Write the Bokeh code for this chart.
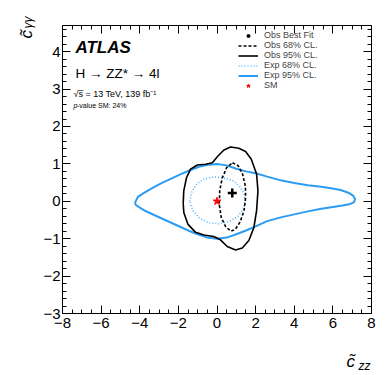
import numpy as np
from bokeh.plotting import figure
from bokeh.models import (Range1d, SingleIntervalTicker, LinearAxis, Label,
                          Legend, LegendItem, CustomJSTickFormatter)
from bokeh.embed import file_html
from bokeh.resources import INLINE

FONT = "Liberation Sans"

# ---------------- data ----------------
x_lim = (-8, 8)
y_lim = (-3, 4.7)

exp95_x = [-4.25, -4.1, -3.8, -3.4, -2.9, -2.4, -1.9, -1.4, -0.9, -0.4, 0.0, 0.5, 1.0, 1.5, 2.0, 2.6,
           3.3, 4.0, 4.7, 5.4, 5.9, 6.4, 6.8, 7.05, 7.15, 7.1,
           6.9, 6.5, 6.0, 5.4, 4.7, 4.0, 3.3, 2.6, 2.0, 1.5, 1.0, 0.5, 0.0, -0.5, -1.0, -1.5,
           -2.0, -2.6, -3.2, -3.7, -4.0, -4.2, -4.25]
exp95_y = [-0.05, 0.12, 0.22, 0.34, 0.48, 0.60, 0.72, 0.83, 0.93, 0.98, 1.0, 0.96, 0.87, 0.80, 0.75, 0.66,
           0.56, 0.49, 0.43, 0.39, 0.35, 0.30, 0.23, 0.15, 0.06, -0.02,
           -0.07, -0.11, -0.15, -0.20, -0.27, -0.35, -0.43, -0.53, -0.67, -0.78, -0.88, -0.97, -1.0, -0.97, -0.88, -0.78,
           -0.66, -0.52, -0.38, -0.26, -0.17, -0.10, -0.05]

exp68_x = [-1.42, -1.3, -1.05, -0.7, -0.2, 0.3, 0.8, 1.15, 1.38, 1.48, 1.38, 1.08, 0.65, 0.1, -0.4, -0.9, -1.25, -1.42]
exp68_y = [0.0, 0.26, 0.46, 0.59, 0.65, 0.63, 0.56, 0.42, 0.22, 0.02, -0.2, -0.40, -0.54, -0.60, -0.58, -0.45, -0.25, 0.0]

obs95_x = [-1.75, -1.72, -1.58, -1.37, -1.02, -0.59, -0.24, 0.05, 0.36, 0.70, 1.13, 1.48, 1.77, 2.05, 2.12,
           2.05, 1.91, 1.65, 1.31, 0.96, 0.53, 0.18, -0.17, -0.68, -1.11, -1.51, -1.72, -1.75]
obs95_y = [-0.05, 0.28, 0.63, 0.86, 0.97, 0.99, 1.03, 1.21, 1.37, 1.45, 1.42, 1.33, 1.13, 0.73, 0.28,
           -0.25, -0.70, -1.05, -1.25, -1.30, -1.21, -1.03, -0.94, -0.90, -0.83, -0.61, -0.30, -0.05]

obs68_x = [0.80, 1.10, 1.33, 1.47, 1.48, 1.40, 1.20, 0.95, 0.72, 0.45, 0.22, 0.12, 0.14, 0.27, 0.50, 0.80]
obs68_y = [1.03, 0.95, 0.72, 0.40, 0.10, -0.25, -0.55, -0.75, -0.80, -0.68, -0.43, -0.10, 0.28, 0.62, 0.90, 1.03]

best_fit_x = [0.79]
best_fit_y = [0.22]
sm_x = [0.0]
sm_y = [0.0]

legend_labels = ["Obs Best Fit", "Obs 68% CL.", "Obs 95% CL.", "Exp 68% CL.", "Exp 95% CL.", "SM"]

BLUE = "#2b9cf2"
LBLUE = "#55b5ff"

# ---------------- figure ----------------
W, H = 386, 372
p = figure(width=W, height=H, output_backend="svg", toolbar_location=None,
           x_range=Range1d(*x_lim), y_range=Range1d(*y_lim),
           min_border_left=62, min_border_right=W - 371, min_border_top=25, min_border_bottom=H - 313,
           x_axis_type=None, y_axis_type=None)
p.background_fill_color = "white"
p.border_fill_color = "white"
p.outline_line_color = "black"
p.outline_line_width = 1
p.xgrid.visible = False
p.ygrid.visible = False

xt = SingleIntervalTicker(interval=2, num_minor_ticks=4)
yt = SingleIntervalTicker(interval=1, num_minor_ticks=5)


def style_axis(ax, labels=True):
    ax.axis_line_color = "black"
    ax.major_tick_line_color = "black"
    ax.minor_tick_line_color = "black"
    ax.major_tick_in = 8
    ax.major_tick_out = 0
    ax.minor_tick_in = 4
    ax.minor_tick_out = 0
    ax.major_label_text_font = FONT
    ax.major_label_text_color = "black"
    ax.major_label_text_font_size = "15px"
    if not labels:
        ax.formatter = CustomJSTickFormatter(code="return ''")
        ax.major_label_standoff = 0


bx = LinearAxis(ticker=xt)
style_axis(bx)
bx.major_label_standoff = 4
p.add_layout(bx, "below")
lx = LinearAxis(ticker=yt)
style_axis(lx)
lx.major_label_standoff = 2
p.add_layout(lx, "left")
tx = LinearAxis(ticker=xt)
style_axis(tx, labels=False)
p.add_layout(tx, "above")
rx = LinearAxis(ticker=yt)
style_axis(rx, labels=False)
p.add_layout(rx, "right")

# ---------------- glyphs ----------------
r_exp95 = p.line(exp95_x, exp95_y, line_color=BLUE, line_width=2)
r_exp68 = p.line(exp68_x, exp68_y, line_color=LBLUE, line_width=1.6, line_dash="1 2")
r_obs95 = p.line(obs95_x, obs95_y, line_color="black", line_width=1.6)
r_obs68 = p.line(obs68_x, obs68_y, line_color="black", line_width=1.6, line_dash="3 2")
r_bf = p.scatter(best_fit_x, best_fit_y, marker="cross", size=9, line_color="black", line_width=2.5)
r_sm = p.scatter(sm_x, sm_y, marker="star", size=8, fill_color="red", line_color="red")

legend = Legend(items=[
    LegendItem(label=legend_labels[0], renderers=[r_bf]),
    LegendItem(label=legend_labels[1], renderers=[r_obs68]),
    LegendItem(label=legend_labels[2], renderers=[r_obs95]),
    LegendItem(label=legend_labels[3], renderers=[r_exp68]),
    LegendItem(label=legend_labels[4], renderers=[r_exp95]),
    LegendItem(label=legend_labels[5], renderers=[r_sm]),
], location=(176, 223))
legend.background_fill_alpha = 0
legend.border_line_alpha = 0
legend.padding = 0
legend.margin = 0
legend.spacing = 0
legend.glyph_width = 20
legend.glyph_height = 9
legend.label_height = 9
legend.label_standoff = 6
legend.label_text_font = FONT
legend.label_text_font_size = "9px"
legend.label_text_line_height = 1.0
legend.label_text_baseline = "middle"
p.add_layout(legend, "center")

# ---------------- texts ----------------
def lab(x, y, text, size, style="normal", units="data", angle=0, panel="center"):
    p.add_layout(Label(x=x, y=y, text=text, x_units=units, y_units=units,
                       text_font=FONT, text_font_size=size, text_font_style=style,
                       text_color="black", angle=angle, text_align="left",
                       text_baseline="alphabetic"), panel)


lab(-7.33, 4.12, "ATLAS", "17px", "bold italic")
lab(-7.33, 3.43, "H \u2192 ZZ* \u2192 4l", "13.5px")
lab(-7.43, 2.88, "\u221as\u0305 = 13 TeV, 139 fb\u207b\u00b9", "9px")
lab(-7.43, 2.55, "p", "7px", "italic")
lab(-7.25, 2.55, "-value SM: 24%", "7px")

# axis titles, placed in the side panels (canvas coordinates)
lab(346, 360.5, "c\u0303", "17px", "italic", units="canvas", panel="below")
lab(358, 365.5, "zz", "12px", "italic", units="canvas", panel="below")
lab(26, 38, "c\u0303", "17px", "italic", units="canvas", angle=np.pi / 2, panel="left")
lab(27.5, 28, "\u03b3\u03b3", "12px", "italic", units="canvas", angle=np.pi / 2, panel="left")

open("out.html", "w").write(file_html(p, INLINE))
